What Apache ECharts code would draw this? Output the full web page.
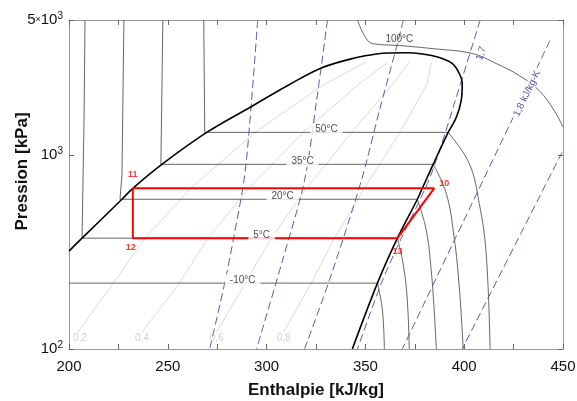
<!DOCTYPE html>
<html>
<head>
<meta charset="utf-8">
<script src="https://cdn.jsdelivr.net/npm/echarts@6/dist/echarts.min.js"></script>
<style>html,body{margin:0;padding:0;background:#fff}#chart{width:577px;height:401px}</style>
</head>
<body>
<div id="chart"></div>
<script>
// diagramme P-h : [h kJ/kg, P kPa]
var saturation = [[200,320.1],[206.6,373.5],[226.8,593.3],[232.3,676],[247,898.7],[269.7,1314],[292.4,1789],[311.6,2323],[328.3,2842],[345.5,3201],[355.6,3340],[362.1,3380],[370,3385],[378.8,3340],[387.4,3201],[393.9,2981],[397.5,2647],[399,2350],[398.5,1921],[396,1570],[391.9,1314],[384.3,898.7],[378.8,676],[376.3,593.3],[366.2,373.5],[356.1,218.9],[343.4,100]];

// isothermes
var isoNames = ['-10°C', '5°C', '20°C', '35°C', '50°C'];
var isoP = [218.9, 373.5, 593.3, 898.7, 1314];
var isoLiquid = [
    [[200,218.9]],
    [[208.1,5000],[207.6,1515],[206.6,373.5]],
    [[227.8,5000],[226.8,788.6],[225.8,593.3]],
    [[247.5,5000],[246.5,898.7]],
    [[268.2,5000],[268.7,1314]]
];
var isoVapor = [
    [[356.1,218.9],[358.6,158.9],[359.6,100]],
    [[366.2,373.5],[369.2,271],[371.2,178.9],[372.2,100]],
    [[376.3,593.3],[380.8,410.6],[383.3,255.4],[384.8,158.9],[385.9,100]],
    [[384.3,898.7],[390.9,637],[394.9,377.9],[397.5,208.7],[399.5,100]],
    [[391.9,1314],[402.5,909.5],[407.6,565.7],[411.1,312.6],[413.1,100]]
];
var isoLabelH = [287.9, 297.5, 308.1, 318.2, 330.3];
var iso100 = [[346,5000],[349.5,4155],[353.5,3779],[367.2,3690],[383.8,3560],[404,3357],[416.2,2981],[427.8,2584],[437.9,2163],[445.5,1706],[450,1400]];
var iso100Label = [367.2, 3963];

// isentropes
var sLines = [
    [[295.5,5000],[292.4,1921],[288.9,788.6],[283.3,373.5],[278.8,218.9],[271.2,100]],
    [[330.8,5000],[325.3,1921],[319.2,743.1],[308.1,287.6],[294.9,100]],
    [[369.2,5000],[365.7,3603],[357.1,1706],[348,743.1],[331.8,226.8],[319.2,100]],
    [[408.1,5000],[395.5,1921],[385.9,942.4],[380.3,676],[368.2,373.5],[358.1,218.9],[346,100]],
    [[443.4,3915],[368.7,100]],
    [[449.5,1036],[399,100]]
];
var sNames = ['1,7', '1,8 kJ/kg-K'];
var sLabelPos = [[408.6,3357], [431.8,2087]];

// titres
var qNames = ['0,2', '0,4', '0,6', '0,8'];
var qLines = [
    [[204.5,122.4],[222.4,218.9],[238.5,373.5],[261.6,676],[294.1,1314],[329,2323],[350.1,3016]],
    [[237,122.4],[255.8,218.9],[270.4,373.5],[290.9,676],[318.6,1314],[346.4,2323],[361.2,3016]],
    [[274.7,122.4],[289.2,218.9],[302.4,373.5],[320.2,676],[343,1314],[363.7,2323],[372.3,3016]],
    [[308.6,122.4],[322.6,218.9],[334.3,373.5],[349.5,676],[367.5,1314],[381.1,2323],[383.4,3016]]
];
var qLabelH = [205.6, 236.9, 274.7, 308.6];
var qLabelP = 114;

// cycle
var cycleNames = ['11', '10', '13', '12'];
var cycleH = [232.3, 384.8, 366.2, 232.3];
var cycleP = [676, 676, 373.5, 373.5];

var FONT = 'Liberation Sans, Arial, sans-serif';
var series = [];

function addLine(data, color, width, type, smooth) {
    series.push({
        type: 'line', data: data, showSymbol: false, silent: true,
        smooth: smooth || false,
        lineStyle: {color: color, width: width, type: type || 'solid'},
        z: 2
    });
}

qLines.forEach(function (d) { addLine(d, '#d0d0d0', 0.8); });
isoNames.forEach(function (n, i) {
    var horiz = isoLiquid[i].concat([[isoVapor[i][0][0], isoP[i]]]);
    addLine(horiz, '#555', 0.9);
    addLine(isoVapor[i], '#555', 0.9, 'solid', 0.4);
});
addLine(iso100, '#555', 0.9, 'solid', 0.4);
sLines.forEach(function (d) { addLine(d, '#5b5bb0', 1, [8, 4], 0.3); });
addLine(saturation, '#000', 1.6, 'solid', 0.35);

// cycle frigorifique
var cyc = cycleH.map(function (h, i) { return [h, cycleP[i]]; });
cyc.push(cyc[0]);
series.push({
    type: 'line', data: cyc, showSymbol: false, silent: true,
    lineStyle: {color: '#ff0000', width: 2}, z: 3
});

var cycOff = [[0, -4], [0, -5], [0, 4], [-2, 0]];
var cycPos = ['top', 'right', 'bottom', 'bottom'];
series.push({
    type: 'scatter', symbolSize: 0, silent: true, z: 6,
    data: cycleNames.map(function (n, i) {
        return {value: [cycleH[i], cycleP[i]], name: n,
            label: {show: true, position: cycPos[i], offset: cycOff[i], formatter: n,
                color: '#ff0000', fontSize: 9, fontWeight: 'bold', fontFamily: FONT}};
    })
});

// étiquettes
var labels = [];
isoNames.forEach(function (n, i) {
    labels.push({value: [isoLabelH[i], isoP[i]], label: {formatter: n, offset: [0, -3],
        backgroundColor: '#fff', padding: [1, 5]}});
});
labels.push({value: iso100Label, label: {formatter: '100°C'}});
qNames.forEach(function (n, i) {
    labels.push({value: [qLabelH[i], qLabelP], label: {formatter: n, color: '#c4c4c4', fontSize: 10}});
});
labels.push({value: sLabelPos[0], label: {formatter: sNames[0], rotate: 72, color: '#2a2a90', fontSize: 10}});
labels.push({value: sLabelPos[1], label: {formatter: sNames[1], rotate: 64, color: '#2a2a90', fontSize: 10,
    backgroundColor: '#fff', padding: [0, 3]}});
series.push({
    type: 'scatter', symbolSize: 0, silent: true, z: 5,
    label: {show: true, position: 'inside', color: '#222', fontSize: 10, fontFamily: FONT},
    data: labels
});

var axisGray = '#999';
var option = {
    animation: false,
    backgroundColor: '#fff',
    grid: {left: 69, right: 14, top: 20, bottom: 52, outerBoundsMode: 'none', containLabel: false},
    xAxis: [{
        type: 'value', min: 200, max: 450, interval: 50,
        name: 'Enthalpie [kJ/kg]', nameLocation: 'middle', nameGap: 33, nameMoveOverlap: false,
        nameTextStyle: {fontSize: 17, fontWeight: 'bold', color: '#111', fontFamily: FONT},
        axisLine: {lineStyle: {color: axisGray}},
        axisTick: {inside: true, length: 5, lineStyle: {color: '#666'}},
        minorTick: {show: true, splitNumber: 2, length: 5, lineStyle: {color: '#666'}},
        axisLabel: {fontSize: 15, color: '#111', margin: 10, fontFamily: FONT},
        splitLine: {show: false}
    }, {
        type: 'value', min: 200, max: 450, interval: 50, position: 'top',
        axisLine: {lineStyle: {color: axisGray}},
        axisTick: {inside: true, length: 5, lineStyle: {color: '#666'}},
        minorTick: {show: true, splitNumber: 2, length: 5, lineStyle: {color: '#666'}},
        axisLabel: {show: false}, splitLine: {show: false}
    }],
    yAxis: [{
        type: 'log', logBase: 10, min: 100, max: 5000,
        name: 'Pression [kPa]', nameLocation: 'middle', nameGap: 38, nameMoveOverlap: false,
        nameTextStyle: {fontSize: 17, fontWeight: 'bold', color: '#111', fontFamily: FONT, padding: [0, 0, 0, 26]},
        axisLine: {show: true, lineStyle: {color: axisGray}},
        axisTick: {show: true, inside: true, length: 5, lineStyle: {color: '#666'}},
        axisLabel: {
            fontSize: 15, color: '#111', margin: 6, fontFamily: FONT,
            formatter: function (v) {
                var e = Math.log10(v);
                if (Math.abs(e - Math.round(e)) < 1e-6) return '10{sup|' + Math.round(e) + '}';
                var p = Math.floor(e);
                return Math.round(v / Math.pow(10, p)) + '{x|×}10{sup|' + p + '}';
            },
            rich: {
                sup: {fontSize: 10, padding: [0, 0, 8, 0], color: '#111', fontFamily: FONT},
                x: {fontSize: 9, color: '#111', fontFamily: FONT}
            }
        },
        splitLine: {show: false}
    }, {
        type: 'log', logBase: 10, min: 100, max: 5000, position: 'right',
        axisLine: {show: true, lineStyle: {color: axisGray}},
        axisTick: {show: true, inside: true, length: 5, lineStyle: {color: '#666'}},
        axisLabel: {show: false}, splitLine: {show: false}
    }],
    series: series
};

var chart = echarts.init(document.getElementById('chart'), null, {renderer: 'canvas'});
chart.setOption(option);
</script>
</body>
</html>
